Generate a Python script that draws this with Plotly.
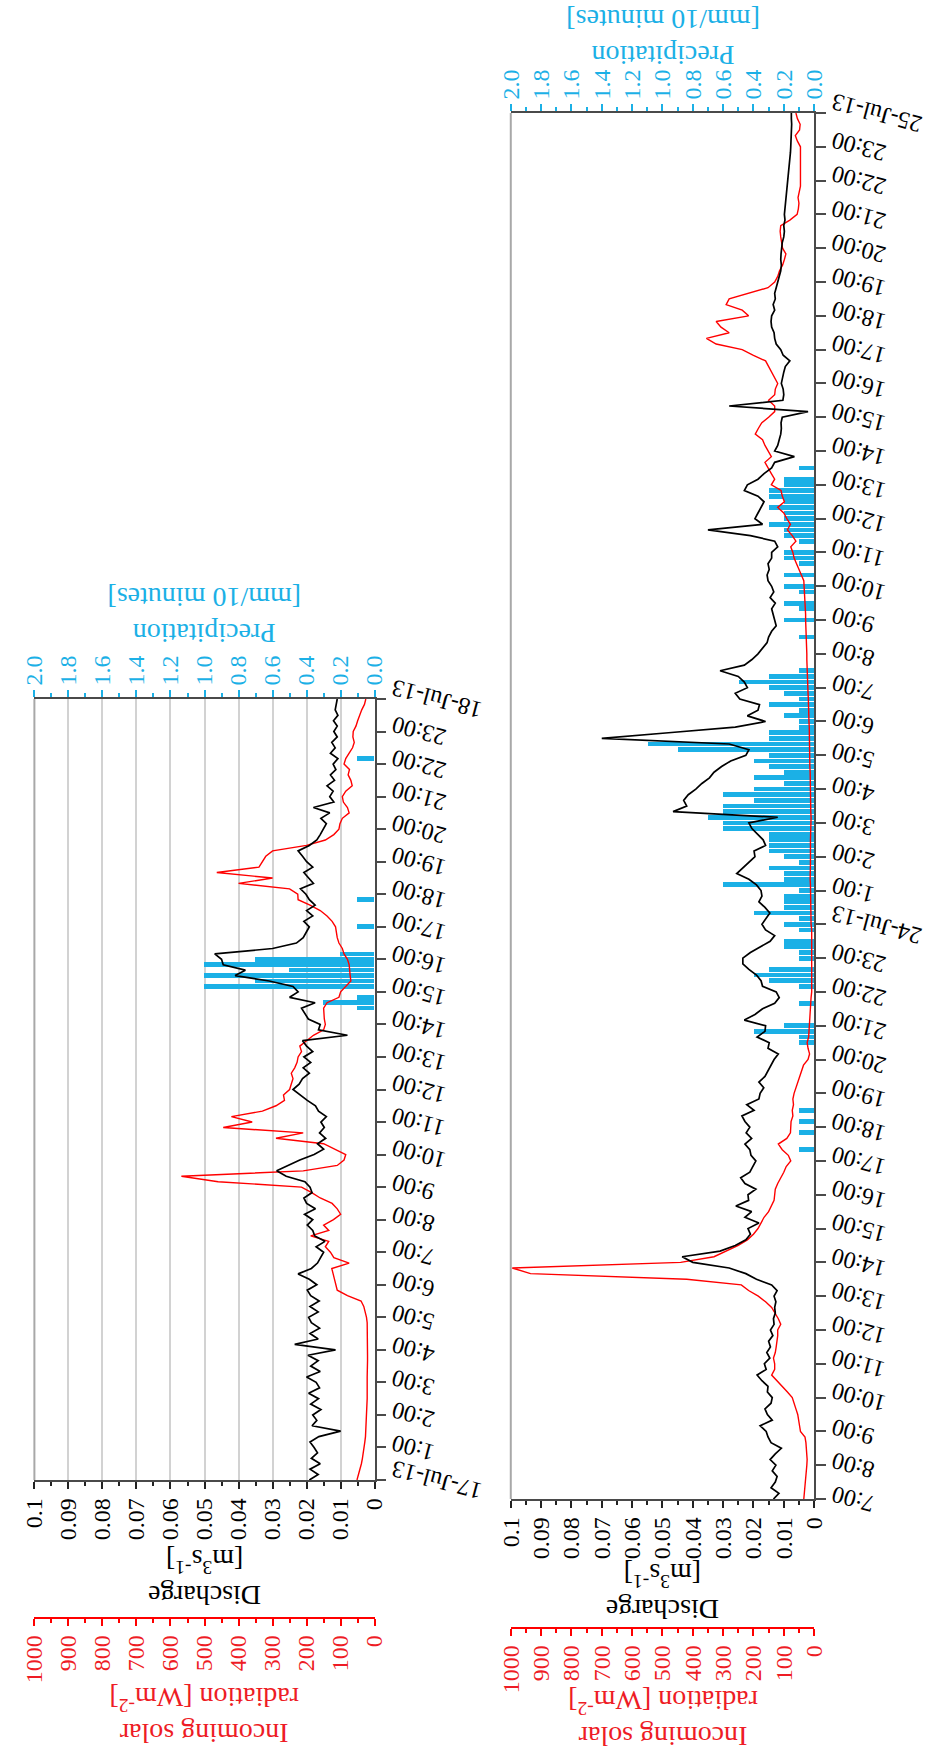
import pandas as pd
import plotly.graph_objects as go

# ---------------- Event 1: 17-18 July 2013 (10-minute data) ----------------
left_start, left_end = "2013-07-17 00:00", "2013-07-18 00:00"

# discharge [m3 s-1], one row per hour (00, 10, 20, 30, 40, 50 min) + final value
left_discharge = [
    0.0192, 0.0166, 0.0190, 0.0160, 0.0186, 0.0168,
    0.0178, 0.0190, 0.0164, 0.0100, 0.0184, 0.0170,
    0.0182, 0.0158, 0.0188, 0.0165, 0.0194, 0.0162,
    0.0172, 0.0200, 0.0160, 0.0188, 0.0166, 0.0196,
    0.0115, 0.0235, 0.0166, 0.0190, 0.0162, 0.0186,
    0.0194, 0.0166, 0.0190, 0.0163, 0.0188, 0.0198,
    0.0170, 0.0192, 0.0225, 0.0186, 0.0168, 0.0160,
    0.0150, 0.0172, 0.0146, 0.0176, 0.0182, 0.0198,
    0.0182, 0.0206, 0.0174, 0.0200, 0.0208, 0.0184,
    0.0190, 0.0205, 0.0260, 0.0288, 0.0255, 0.0220,
    0.0178, 0.0150, 0.0168, 0.0144, 0.0162, 0.0148,
    0.0158, 0.0142, 0.0165, 0.0174, 0.0198, 0.0220,
    0.0240, 0.0222, 0.0212, 0.0192, 0.0210, 0.0188,
    0.0208, 0.0182, 0.0200, 0.0212, 0.0080, 0.0165,
    0.0160, 0.0195, 0.0205, 0.0215, 0.0175, 0.0250,
    0.0225, 0.0240, 0.0310, 0.0410, 0.0380, 0.0445,
    0.0450, 0.0470, 0.0300, 0.0230, 0.0210, 0.0200,
    0.0192, 0.0208, 0.0182, 0.0200, 0.0175, 0.0192,
    0.0202, 0.0218, 0.0180, 0.0194, 0.0208, 0.0182,
    0.0200, 0.0212, 0.0225, 0.0192, 0.0170, 0.0160,
    0.0150, 0.0142, 0.0158, 0.0132, 0.0180, 0.0120,
    0.0132, 0.0122, 0.0140, 0.0118, 0.0130, 0.0114,
    0.0122, 0.0108, 0.0130, 0.0116, 0.0126, 0.0110,
    0.0120, 0.0110, 0.0121, 0.0108, 0.0116, 0.0112,
    0.0110,
]

# incoming solar radiation [W m-2]
left_radiation = [
    52, 47, 43, 39, 36, 33,
    31, 29, 27, 26, 25, 24,
    23, 23, 22, 22, 22, 21,
    22, 22, 21, 21, 21, 21,
    21, 21, 21, 21, 22, 22,
    24, 27, 32, 40, 80, 110,
    115, 118, 122, 126, 75, 120,
    130, 145, 135, 188, 135, 150,
    121, 100, 110, 125, 160, 185,
    215, 460, 568, 210, 110, 90,
    85, 120, 150, 290, 210, 445,
    360, 421, 330, 290, 265, 268,
    250, 245, 240, 245, 235, 228,
    225, 215, 220, 200, 180, 150,
    145, 148, 150, 150, 140, 105,
    100, 85, 70, 72, 73, 75,
    80, 90, 95, 105, 110, 112,
    115, 125, 140, 160, 190, 225,
    226, 250, 400, 300, 464, 340,
    330, 320, 300, 200, 145, 120,
    105, 102, 95, 75, 80, 92,
    95, 85, 66, 70, 78, 74,
    90, 85, 75, 65, 60, 64,
    63, 55, 50, 45, 38, 30,
    26,
]

# precipitation [mm / 10 min], non-zero intervals only
left_precip_time = [
    "2013-07-17 14:30", "2013-07-17 14:40", "2013-07-17 14:50",
    "2013-07-17 15:10", "2013-07-17 15:20", "2013-07-17 15:30",
    "2013-07-17 15:40", "2013-07-17 15:50", "2013-07-17 16:00",
    "2013-07-17 16:10", "2013-07-17 17:00", "2013-07-17 17:50",
    "2013-07-17 22:10",
]
left_precip = [0.1, 0.3, 0.1, 1.0, 0.7, 1.0, 0.5, 1.0, 0.7, 0.2, 0.1, 0.1, 0.1]

# ---------------- Event 2: 23-25 July 2013 (10-minute data) ----------------
right_start, right_end = "2013-07-23 07:00", "2013-07-25 00:00"

right_discharge = [
    # 23 July, 07:00 - 23:50
    0.0134, 0.0116, 0.0142, 0.0128, 0.0122, 0.0138,
    0.0126, 0.0145, 0.0128, 0.0108, 0.0142, 0.0152,
    0.0158, 0.0178, 0.0138, 0.0154, 0.0162, 0.0142,
    0.0138, 0.0154, 0.0152, 0.0172, 0.0188, 0.0158,
    0.0164, 0.0146, 0.0156, 0.0144, 0.0150, 0.0136,
    0.0144, 0.0132, 0.0134, 0.0128, 0.0130, 0.0126,
    0.0132, 0.0122, 0.0140, 0.0190, 0.0225, 0.0280,
    0.0400, 0.0435, 0.0310, 0.0260, 0.0225, 0.0210,
    0.0218, 0.0182, 0.0228, 0.0206, 0.0258, 0.0216,
    0.0218, 0.0192, 0.0228, 0.0242, 0.0212, 0.0202,
    0.0192, 0.0208, 0.0212, 0.0228, 0.0206, 0.0224,
    0.0212, 0.0228, 0.0238, 0.0198, 0.0222, 0.0182,
    0.0178, 0.0166, 0.0182, 0.0162, 0.0152, 0.0142,
    0.0132, 0.0118, 0.0152, 0.0148, 0.0188, 0.0162,
    0.0160, 0.0230, 0.0195, 0.0170, 0.0130, 0.0115,
    0.0125, 0.0170, 0.0175, 0.0190, 0.0215, 0.0235,
    0.0235, 0.0210, 0.0175, 0.0145, 0.0130, 0.0160,
    # 24 July, 00:00 - 23:50
    0.0172, 0.0158, 0.0146, 0.0162, 0.0182, 0.0172,
    0.0175, 0.0190, 0.0215, 0.0255, 0.0235, 0.0215,
    0.0195, 0.0198, 0.0160, 0.0168, 0.0185, 0.0205,
    0.0215, 0.0120, 0.0465, 0.0420, 0.0430, 0.0415,
    0.0390, 0.0370, 0.0345, 0.0330, 0.0305, 0.0275,
    0.0225, 0.0215, 0.0280, 0.0700, 0.0480, 0.0260,
    0.0160, 0.0220, 0.0185, 0.0180, 0.0245, 0.0260,
    0.0220, 0.0230, 0.0250, 0.0310, 0.0230, 0.0205,
    0.0185, 0.0170, 0.0155, 0.0150, 0.0140, 0.0125,
    0.0130, 0.0137, 0.0140, 0.0128, 0.0145, 0.0133,
    0.0140, 0.0152, 0.0155, 0.0148, 0.0152, 0.0140,
    0.0140, 0.0120, 0.0130, 0.0210, 0.0350, 0.0170,
    0.0195, 0.0185, 0.0175, 0.0165, 0.0185, 0.0230,
    0.0220, 0.0185, 0.0165, 0.0140, 0.0130, 0.0065,
    0.0130, 0.0120, 0.0115, 0.0110, 0.0108, 0.0109,
    0.0105, 0.0020, 0.0280, 0.0103, 0.0100, 0.0102,
    0.0108, 0.0105, 0.0100, 0.0095, 0.0080, 0.0102,
    0.0110, 0.0125, 0.0130, 0.0132, 0.0140, 0.0142,
    0.0140, 0.0130, 0.0135, 0.0128, 0.0130, 0.0125,
    0.0120, 0.0115, 0.0110, 0.0108, 0.0110, 0.0109,
    0.0108, 0.0105, 0.0100, 0.0098, 0.0100, 0.0096,
    0.0098, 0.0096, 0.0095, 0.0092, 0.0090, 0.0088,
    0.0088, 0.0085, 0.0082, 0.0080, 0.0079, 0.0078,
    0.0077, 0.0076, 0.0075, 0.0076, 0.0074, 0.0075,
    0.0075,
]

right_radiation = [
    # 23 July, 07:00 - 23:50
    34, 32, 30, 29, 28, 26,
    24, 23, 24, 25, 27, 30,
    45, 48, 50, 54, 60, 66,
    72, 88, 105, 125, 140, 130,
    130, 134, 128, 125, 122, 120,
    120, 110, 118, 130, 140, 160,
    184, 216, 240, 420, 935, 995,
    440, 330, 290, 250, 220, 200,
    185, 175, 165, 150, 140, 132,
    130, 128, 120, 109, 100, 92,
    77, 85, 105, 118, 90, 78,
    77, 76, 70, 72, 68, 70,
    66, 60, 55, 48, 42, 35,
    20, 15, 20, 23, 18, 17,
    17, 15, 14, 12, 11, 10,
    8, 8, 7, 7, 7, 7,
    7, 7, 7, 7, 7, 8,
    # 24 July, 00:00 - 23:50
    10, 10, 11, 10, 11, 12,
    12, 12, 13, 12, 12, 12,
    12, 13, 12, 12, 11, 12,
    10, 10, 11, 11, 12, 12,
    12, 12, 13, 13, 14, 14,
    14, 14, 15, 15, 16, 16,
    17, 17, 18, 18, 19, 20,
    21, 22, 23, 23, 24, 24,
    24, 25, 25, 26, 27, 27,
    28, 28, 29, 30, 31, 31,
    32, 34, 42, 50, 58, 66,
    70, 77, 60, 72, 88, 78,
    90, 100, 120, 98, 105, 109,
    141, 130, 141, 152, 162, 141,
    152, 162, 170, 194, 184, 173,
    150, 130, 130, 150, 130, 128,
    120, 130, 141, 152, 160, 200,
    237, 323, 355, 280, 307, 323,
    216, 237, 290, 280, 216, 152,
    130, 120, 114, 104, 98, 93,
    104, 108, 110, 112, 110, 80,
    56, 52, 50, 53, 48, 45,
    45, 45, 44, 45, 46, 45,
    45, 55, 62, 48, 46, 55,
    60,
]

right_precip_time = [
    "2013-07-23 17:20", "2013-07-23 17:50", "2013-07-23 18:10", "2013-07-23 18:30",
    "2013-07-23 20:30", "2013-07-23 20:40", "2013-07-23 20:50", "2013-07-23 21:00",
    "2013-07-23 21:40", "2013-07-23 22:10", "2013-07-23 22:20", "2013-07-23 22:30",
    "2013-07-23 22:40", "2013-07-23 23:00", "2013-07-23 23:10", "2013-07-23 23:20",
    "2013-07-23 23:30", "2013-07-23 23:50",
    "2013-07-24 00:00", "2013-07-24 00:10", "2013-07-24 00:20", "2013-07-24 00:30",
    "2013-07-24 00:40", "2013-07-24 00:50", "2013-07-24 01:00", "2013-07-24 01:10",
    "2013-07-24 01:20", "2013-07-24 01:30", "2013-07-24 01:40", "2013-07-24 01:50",
    "2013-07-24 02:00", "2013-07-24 02:10", "2013-07-24 02:20", "2013-07-24 02:30",
    "2013-07-24 02:40", "2013-07-24 02:50", "2013-07-24 03:00", "2013-07-24 03:10",
    "2013-07-24 03:20", "2013-07-24 03:30", "2013-07-24 03:40", "2013-07-24 03:50",
    "2013-07-24 04:00", "2013-07-24 04:10", "2013-07-24 04:20", "2013-07-24 04:30",
    "2013-07-24 04:40", "2013-07-24 04:50", "2013-07-24 05:00", "2013-07-24 05:10",
    "2013-07-24 05:20", "2013-07-24 05:30", "2013-07-24 05:40", "2013-07-24 05:50",
    "2013-07-24 06:00", "2013-07-24 06:10", "2013-07-24 06:20", "2013-07-24 06:30",
    "2013-07-24 06:40", "2013-07-24 06:50", "2013-07-24 07:00", "2013-07-24 07:10",
    "2013-07-24 07:20", "2013-07-24 07:30", "2013-07-24 08:30", "2013-07-24 09:00",
    "2013-07-24 09:20", "2013-07-24 09:30", "2013-07-24 09:50", "2013-07-24 10:00",
    "2013-07-24 10:20", "2013-07-24 10:40", "2013-07-24 10:50", "2013-07-24 11:00",
    "2013-07-24 11:20", "2013-07-24 11:30", "2013-07-24 11:40", "2013-07-24 11:50",
    "2013-07-24 12:00", "2013-07-24 12:10", "2013-07-24 12:20", "2013-07-24 12:30",
    "2013-07-24 12:40", "2013-07-24 12:50", "2013-07-24 13:00", "2013-07-24 13:10",
    "2013-07-24 13:30",
]
right_precip = [
    0.1, 0.1, 0.1, 0.1,
    0.1, 0.1, 0.4, 0.2,
    0.1, 0.1, 0.3, 0.4,
    0.3, 0.1, 0.1, 0.2,
    0.2, 0.1,
    0.2, 0.1, 0.4, 0.2,
    0.2, 0.2, 0.1, 0.6,
    0.2, 0.2, 0.3, 0.1,
    0.2, 0.3, 0.3, 0.3,
    0.3, 0.6, 0.6, 0.7,
    0.6, 0.6, 0.4, 0.6,
    0.4, 0.2, 0.4, 0.2,
    0.3, 0.4, 0.3, 0.9,
    1.1, 0.3, 0.3, 0.1,
    0.1, 0.2, 0.1, 0.3,
    0.1, 0.2, 0.3, 0.5,
    0.3, 0.1, 0.1, 0.2,
    0.1, 0.2, 0.1, 0.2,
    0.2, 0.1, 0.2, 0.2,
    0.1, 0.2, 0.2, 0.3,
    0.2, 0.2, 0.3, 0.2,
    0.3, 0.3, 0.2, 0.2,
    0.1,
]

# ---------------- styling ----------------
W, H = 936, 1753
SERIF = "Liberation Serif, Times New Roman, serif"
BLUE = "#1BB0E6"
RED = "#FF0000"
RED_TXT = "#EE1C25"
AXIS = "#4A4A4A"
TICK_SIZE = 24
TITLE_SIZE = 28


def px_x(p):
    return p / W


def px_y(p):
    return 1 - p / H


fig = go.Figure()


def add_panel(ids, start, end, discharge, radiation, p_time, p_vals,
              xdom, ydom, rad_pos, grid, titles_y):
    """One event panel: time runs upward, values grow to the left."""
    xp, xr, xq, ya = ids  # precip (base), radiation, discharge, time axis ids
    t = pd.date_range(start, end, freq="10min")

    fig.add_trace(go.Bar(
        x=p_vals, y=pd.to_datetime(p_time), orientation="h",
        width=8.5 * 60 * 1000, marker=dict(color=BLUE, line=dict(width=0)),
        xaxis=xp, yaxis=ya, hoverinfo="skip"))
    fig.add_trace(go.Scatter(
        x=radiation, y=t, mode="lines", line=dict(color=RED, width=1.4),
        xaxis=xr, yaxis=ya, hoverinfo="skip"))
    fig.add_trace(go.Scatter(
        x=discharge, y=t, mode="lines", line=dict(color="#000000", width=1.7),
        xaxis=xq, yaxis=ya, hoverinfo="skip"))

    key = lambda a: ("xaxis" if a[0] == "x" else "yaxis") + a[1:]
    common = dict(zeroline=False, fixedrange=True, showline=True, linewidth=1.5,
                  ticks="outside", tickwidth=1.5, tickangle=-90)

    fig.layout[key(xp)] = dict(
        common, domain=xdom, anchor=ya, side="top", range=[2.0, 0.0],
        tickmode="linear", tick0=0, dtick=0.2, tickformat=".1f",
        ticklen=7, tickcolor=BLUE, linecolor=AXIS,
        tickfont=dict(family=SERIF, size=TICK_SIZE, color=BLUE),
        showgrid=grid, gridcolor="#D2D2D2", gridwidth=1.5,
        minor=dict(dtick=0.1, ticks="outside", ticklen=4, tickcolor=BLUE, showgrid=False))
    fig.layout[key(xr)] = dict(
        common, domain=xdom, overlaying=xp, anchor="free", position=rad_pos,
        side="bottom", range=[1000, 0], tickmode="linear", tick0=0, dtick=100,
        ticklen=7, tickcolor=RED, linecolor=RED,
        tickfont=dict(family=SERIF, size=TICK_SIZE, color=RED_TXT), showgrid=False,
        minor=dict(dtick=50, ticks="outside", ticklen=4, tickcolor=RED))
    fig.layout[key(xq)] = dict(
        common, domain=xdom, overlaying=xp, anchor=ya, side="bottom",
        range=[0.1, 0.0], tickmode="linear", tick0=0, dtick=0.01,
        ticklen=7, tickcolor="#222222", linecolor=AXIS,
        tickfont=dict(family=SERIF, size=TICK_SIZE, color="#000000"), showgrid=False,
        minor=dict(dtick=0.005, ticks="outside", ticklen=4, tickcolor="#222222"))

    hours = pd.date_range(start, end, freq="1h")
    fig.layout[key(ya)] = dict(
        domain=ydom, anchor=xp, side="right", type="date",
        range=[pd.Timestamp(start), pd.Timestamp(end)],
        tickmode="array", tickvals=list(hours), showticklabels=False,
        ticks="outside", ticklen=10, tickwidth=1.5, tickcolor=AXIS,
        showline=True, linecolor=AXIS, linewidth=1.5,
        showgrid=False, zeroline=False, fixedrange=True)

    # light frame on the far (upper-value) side
    fig.add_shape(type="line", xref=f"{xp} domain", yref=f"{ya} domain",
                  x0=0, x1=0, y0=0, y1=1, line=dict(color="#A8A8A8", width=2))

    # slanted, flipped time labels next to the hourly ticks
    for h in hours:
        label = h.strftime("%d-%b-%y") if h.hour == 0 else f"{h.hour}:00"
        fig.add_annotation(
            x=xdom[1], xref="paper", y=h, yref=ya, text=label, showarrow=False,
            xanchor="left", yanchor="middle", xshift=12, textangle=-165,
            font=dict(family=SERIF, size=TICK_SIZE, color="#000000"))

    # axis titles, drawn upside down like the tick labels
    xc = (xdom[0] + xdom[1]) / 2
    y_prec, y_dis, y_rad = titles_y
    title = dict(xref="paper", yref="paper", showarrow=False, textangle=180,
                 xanchor="center", yanchor="middle")
    fig.add_annotation(x=xc, y=y_prec, text="Precipitation<br>[mm/10 minutes]",
                       font=dict(family=SERIF, size=TITLE_SIZE, color=BLUE), **title)
    fig.add_annotation(x=xc, y=y_dis, text="Discharge<br>[m<sup>3</sup>s<sup>-1</sup>]",
                       font=dict(family=SERIF, size=TITLE_SIZE, color="#000000"), **title)
    fig.add_annotation(x=xc, y=y_rad, text="Incoming solar<br>radiation [Wm<sup>-2</sup>]",
                       font=dict(family=SERIF, size=TITLE_SIZE, color=RED_TXT), **title)


add_panel(("x", "x2", "x3", "y"), left_start, left_end,
          left_discharge, left_radiation, left_precip_time, left_precip,
          xdom=[px_x(22), px_x(372)], ydom=[px_y(1480), px_y(699)],
          rad_pos=px_y(1618), grid=True,
          titles_y=(px_y(616), px_y(1578), px_y(1716)))

add_panel(("x4", "x5", "x6", "y2"), right_start, right_end,
          right_discharge, right_radiation, right_precip_time, right_precip,
          xdom=[px_x(512), px_x(824)], ydom=[px_y(1499), px_y(113)],
          rad_pos=px_y(1628), grid=False,
          titles_y=(px_y(38), px_y(1592), px_y(1719)))

fig.update_layout(
    width=W, height=H, margin=dict(l=0, r=0, t=0, b=0),
    paper_bgcolor="white", plot_bgcolor="white", showlegend=False,
    bargap=0, font=dict(family=SERIF),
)

fig.write_html("out.html")
